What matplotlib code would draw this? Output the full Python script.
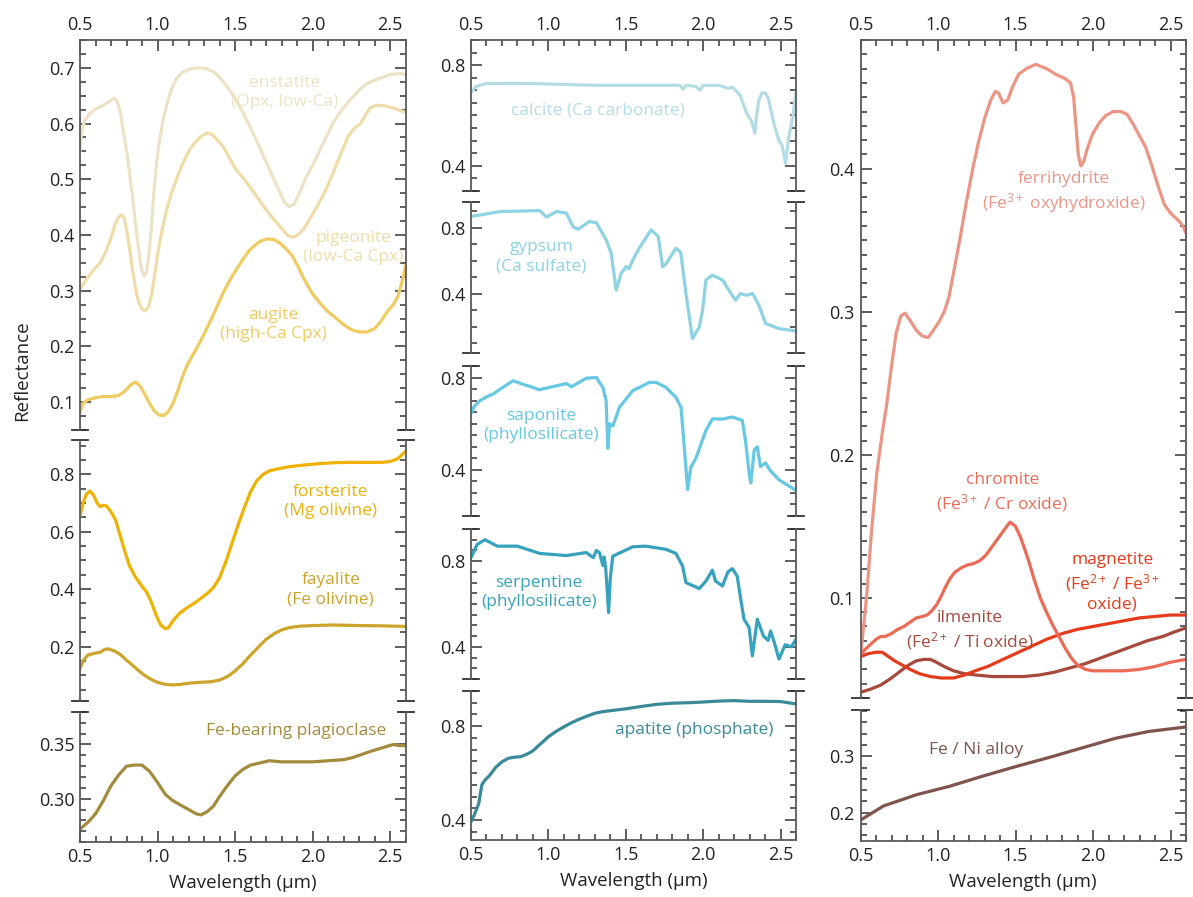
import matplotlib
matplotlib.use("Agg")
import matplotlib.pyplot as plt
from matplotlib.ticker import MultipleLocator, FormatStrFormatter

plt.rcParams['font.family'] = ['Open Sans', 'DejaVu Sans']
plt.rcParams['mathtext.default'] = 'regular'

# ---------------- data (wavelength in µm, reflectance) ----------------
enstatite_wl = [0.50, 0.51, 0.53, 0.56, 0.60, 0.65, 0.69, 0.72, 0.74, 0.76, 0.78, 0.80, 0.82, 0.84, 0.86,
                0.88, 0.895, 0.913, 0.93, 0.945, 0.96, 0.975, 0.99, 1.01, 1.035, 1.06, 1.09, 1.12, 1.16,
                1.21, 1.26, 1.31, 1.36, 1.40, 1.45, 1.50, 1.55, 1.60, 1.65, 1.70, 1.75, 1.79, 1.82, 1.85,
                1.88, 1.92, 1.96, 2.00, 2.04, 2.08, 2.13, 2.18, 2.24, 2.30, 2.35, 2.42, 2.50, 2.56, 2.60]
enstatite_r = [0.55, 0.585, 0.605, 0.617, 0.626, 0.633, 0.640, 0.646, 0.64, 0.62, 0.585, 0.552, 0.51, 0.466,
               0.415, 0.37, 0.34, 0.326, 0.335, 0.365, 0.415, 0.47, 0.52, 0.565, 0.605, 0.635, 0.662, 0.68,
               0.692, 0.698, 0.70, 0.699, 0.693, 0.683, 0.666, 0.645, 0.62, 0.592, 0.562, 0.531, 0.50,
               0.476, 0.458, 0.451, 0.455, 0.478, 0.505, 0.525, 0.548, 0.572, 0.60, 0.622, 0.642, 0.66,
               0.672, 0.68, 0.688, 0.69, 0.688]

pigeonite_wl = [0.50, 0.54, 0.58, 0.63, 0.67, 0.70, 0.725, 0.75, 0.77, 0.785, 0.80, 0.82, 0.84, 0.86, 0.88,
                0.90, 0.92, 0.94, 0.96, 0.98, 1.00, 1.03, 1.06, 1.09, 1.12, 1.16, 1.20, 1.24, 1.28, 1.32,
                1.35, 1.38, 1.42, 1.46, 1.50, 1.55, 1.60, 1.65, 1.70, 1.75, 1.80, 1.84, 1.87, 1.90, 1.94,
                1.98, 2.03, 2.08, 2.13, 2.18, 2.23, 2.27, 2.31, 2.34, 2.37, 2.41, 2.46, 2.52, 2.56, 2.60]
pigeonite_r = [0.302, 0.32, 0.335, 0.35, 0.372, 0.395, 0.418, 0.433, 0.436, 0.43, 0.41, 0.375, 0.335, 0.30,
               0.278, 0.267, 0.264, 0.27, 0.29, 0.325, 0.365, 0.41, 0.447, 0.475, 0.499, 0.527, 0.55, 0.566,
               0.577, 0.583, 0.581, 0.572, 0.56, 0.54, 0.52, 0.503, 0.485, 0.465, 0.445, 0.428, 0.412,
               0.399, 0.396, 0.399, 0.41, 0.428, 0.452, 0.478, 0.51, 0.545, 0.578, 0.592, 0.60, 0.615,
               0.628, 0.633, 0.632, 0.628, 0.624, 0.62]

augite_wl = [0.50, 0.52, 0.55, 0.60, 0.65, 0.70, 0.75, 0.79, 0.83, 0.86, 0.89, 0.92, 0.95, 0.98, 1.01,
             1.04, 1.07, 1.10, 1.13, 1.16, 1.19, 1.23, 1.27, 1.31, 1.35, 1.39, 1.43, 1.47, 1.51, 1.55,
             1.59, 1.63, 1.67, 1.71, 1.75, 1.79, 1.83, 1.87, 1.91, 1.95, 2.00, 2.05, 2.10, 2.15, 2.20,
             2.25, 2.30, 2.35, 2.40, 2.44, 2.48, 2.52, 2.55, 2.58, 2.60]
augite_r = [0.082, 0.098, 0.104, 0.108, 0.11, 0.11, 0.112, 0.12, 0.132, 0.136, 0.128, 0.113, 0.097, 0.084,
            0.077, 0.076, 0.083, 0.098, 0.12, 0.145, 0.166, 0.186, 0.206, 0.228, 0.251, 0.276, 0.30, 0.321,
            0.339, 0.356, 0.372, 0.382, 0.39, 0.393, 0.392, 0.385, 0.375, 0.362, 0.341, 0.318, 0.294,
            0.277, 0.262, 0.251, 0.239, 0.23, 0.226, 0.226, 0.232, 0.245, 0.262, 0.275, 0.29, 0.32, 0.345]

forsterite_wl = [0.50, 0.52, 0.54, 0.565, 0.59, 0.61, 0.63, 0.65, 0.67, 0.70, 0.73, 0.76, 0.79, 0.82, 0.86,
                 0.90, 0.93, 0.96, 0.99, 1.02, 1.05, 1.07, 1.10, 1.14, 1.19, 1.24, 1.28, 1.32, 1.36, 1.40,
                 1.44, 1.48, 1.52, 1.56, 1.60, 1.64, 1.68, 1.72, 1.78, 1.85, 1.95, 2.05, 2.15, 2.25, 2.35,
                 2.45, 2.50, 2.55, 2.60]
forsterite_r = [0.655, 0.70, 0.73, 0.742, 0.725, 0.70, 0.688, 0.692, 0.69, 0.67, 0.64, 0.585, 0.53, 0.48,
                0.44, 0.41, 0.389, 0.355, 0.31, 0.275, 0.262, 0.265, 0.29, 0.315, 0.335, 0.352, 0.368,
                0.385, 0.405, 0.44, 0.495, 0.56, 0.625, 0.685, 0.74, 0.778, 0.80, 0.812, 0.82, 0.827,
                0.833, 0.838, 0.841, 0.842, 0.842, 0.842, 0.845, 0.855, 0.881]

fayalite_wl = [0.50, 0.52, 0.55, 0.59, 0.63, 0.66, 0.68, 0.72, 0.76, 0.80, 0.84, 0.88, 0.92, 0.96, 1.00,
               1.05, 1.10, 1.15, 1.20, 1.27, 1.34, 1.40, 1.45, 1.50, 1.55, 1.60, 1.65, 1.70, 1.75, 1.80,
               1.85, 1.92, 2.00, 2.13, 2.30, 2.45, 2.60]
fayalite_r = [0.122, 0.15, 0.17, 0.176, 0.18, 0.19, 0.192, 0.185, 0.172, 0.152, 0.134, 0.115, 0.098, 0.085,
              0.075, 0.068, 0.066, 0.068, 0.072, 0.075, 0.077, 0.083, 0.095, 0.115, 0.14, 0.17, 0.198,
              0.225, 0.244, 0.258, 0.266, 0.271, 0.273, 0.275, 0.273, 0.272, 0.27]

plagioclase_wl = [0.50, 0.55, 0.60, 0.65, 0.70, 0.75, 0.80, 0.85, 0.90, 0.95, 1.00, 1.05, 1.10, 1.15, 1.20,
                  1.25, 1.28, 1.32, 1.36, 1.40, 1.45, 1.50, 1.55, 1.60, 1.66, 1.72, 1.80, 1.90, 2.00, 2.10,
                  2.20, 2.26, 2.32, 2.38, 2.45, 2.52, 2.56, 2.60]
plagioclase_r = [0.272, 0.278, 0.286, 0.298, 0.312, 0.322, 0.33, 0.331, 0.331, 0.325, 0.315, 0.304, 0.298,
                 0.294, 0.29, 0.286, 0.285, 0.288, 0.293, 0.302, 0.312, 0.321, 0.327, 0.331, 0.333, 0.335,
                 0.334, 0.334, 0.334, 0.335, 0.336, 0.338, 0.341, 0.344, 0.347, 0.35, 0.349, 0.349]

calcite_wl = [0.50, 0.53, 0.60, 0.90, 1.30, 1.70, 1.85, 1.87, 1.89, 1.95, 1.98, 2.00, 2.10, 2.16, 2.19,
              2.24, 2.28, 2.31, 2.335, 2.345, 2.36, 2.38, 2.40, 2.42, 2.46, 2.49, 2.51, 2.533, 2.55, 2.58, 2.60]
calcite_r = [0.69, 0.715, 0.727, 0.727, 0.72, 0.72, 0.72, 0.705, 0.72, 0.716, 0.70, 0.72, 0.72, 0.708, 0.712,
             0.68, 0.61, 0.58, 0.53, 0.60, 0.66, 0.69, 0.69, 0.67, 0.56, 0.50, 0.48, 0.41, 0.50, 0.60, 0.69]

gypsum_wl = [0.50, 0.687, 0.944, 0.987, 1.052, 1.116, 1.159, 1.191, 1.266, 1.31, 1.374, 1.406, 1.438, 1.47,
             1.503, 1.52, 1.545, 1.59, 1.664, 1.71, 1.738, 1.76, 1.824, 1.855, 1.889, 1.931, 1.975, 1.996,
             2.018, 2.06, 2.125, 2.18, 2.21, 2.24, 2.28, 2.32, 2.36, 2.404, 2.49, 2.60]
gypsum_r = [0.867, 0.897, 0.903, 0.863, 0.897, 0.888, 0.806, 0.79, 0.837, 0.83, 0.725, 0.644, 0.421, 0.522,
            0.563, 0.55, 0.603, 0.68, 0.786, 0.745, 0.563, 0.58, 0.675, 0.65, 0.40, 0.127, 0.197, 0.299,
            0.482, 0.512, 0.482, 0.40, 0.36, 0.40, 0.39, 0.40, 0.33, 0.218, 0.188, 0.173]

saponite_wl = [0.50, 0.52, 0.558, 0.60, 0.644, 0.70, 0.772, 0.84, 0.901, 0.94, 1.116, 1.15, 1.245, 1.31,
               1.352, 1.373, 1.384, 1.395, 1.417, 1.459, 1.545, 1.653, 1.696, 1.76, 1.824, 1.857, 1.878,
               1.90, 1.92, 1.953, 2.018, 2.06, 2.125, 2.189, 2.253, 2.275, 2.297, 2.308, 2.33, 2.35, 2.37,
               2.404, 2.43, 2.49, 2.60]
saponite_r = [0.643, 0.675, 0.70, 0.716, 0.729, 0.755, 0.786, 0.77, 0.757, 0.747, 0.774, 0.76, 0.797, 0.80,
              0.757, 0.70, 0.493, 0.60, 0.59, 0.671, 0.743, 0.779, 0.779, 0.757, 0.714, 0.671, 0.50, 0.314,
              0.41, 0.45, 0.571, 0.621, 0.62, 0.629, 0.614, 0.52, 0.386, 0.343, 0.486, 0.50, 0.414, 0.43,
              0.40, 0.357, 0.311]

serpentine_wl = [0.50, 0.54, 0.59, 0.67, 0.80, 0.944, 1.116, 1.245, 1.29, 1.31, 1.33, 1.352, 1.36, 1.37,
                 1.384, 1.389, 1.40, 1.416, 1.545, 1.63, 1.76, 1.824, 1.867, 1.889, 1.975, 2.018, 2.06, 2.08,
                 2.125, 2.16, 2.189, 2.22, 2.243, 2.264, 2.297, 2.318, 2.35, 2.39, 2.42, 2.436, 2.46, 2.49,
                 2.53, 2.57, 2.60]
serpentine_r = [0.816, 0.878, 0.90, 0.87, 0.87, 0.836, 0.826, 0.84, 0.816, 0.85, 0.84, 0.78, 0.82, 0.77,
                0.622, 0.56, 0.72, 0.823, 0.867, 0.87, 0.855, 0.836, 0.777, 0.70, 0.672, 0.707, 0.758, 0.707,
                0.684, 0.75, 0.765, 0.73, 0.622, 0.529, 0.49, 0.358, 0.529, 0.45, 0.43, 0.474, 0.42, 0.343,
                0.41, 0.40, 0.436]

apatite_wl = [0.50, 0.52, 0.55, 0.57, 0.59, 0.62, 0.66, 0.70, 0.74, 0.78, 0.82, 0.86, 0.90, 0.95, 1.00,
              1.05, 1.10, 1.15, 1.20, 1.25, 1.30, 1.35, 1.40, 1.50, 1.60, 1.70, 1.80, 1.90, 2.00, 2.10,
              2.20, 2.30, 2.40, 2.50, 2.60]
apatite_r = [0.393, 0.42, 0.47, 0.55, 0.57, 0.59, 0.625, 0.648, 0.663, 0.668, 0.67, 0.68, 0.695, 0.725,
             0.755, 0.778, 0.797, 0.815, 0.83, 0.843, 0.855, 0.862, 0.866, 0.874, 0.884, 0.893, 0.898, 0.90,
             0.903, 0.907, 0.909, 0.906, 0.906, 0.905, 0.895]

ferrihydrite_wl = [0.50, 0.52, 0.541, 0.57, 0.605, 0.64, 0.67, 0.70, 0.73, 0.76, 0.787, 0.82, 0.86, 0.90,
                   0.936, 0.97, 1.012, 1.04, 1.07, 1.10, 1.14, 1.18, 1.226, 1.26, 1.30, 1.34, 1.37, 1.39,
                   1.42, 1.45, 1.48, 1.52, 1.57, 1.63, 1.70, 1.76, 1.82, 1.855, 1.875, 1.89, 1.905, 1.921,
                   1.94, 1.96, 1.996, 2.04, 2.08, 2.13, 2.18, 2.22, 2.26, 2.30, 2.34, 2.38, 2.42, 2.46,
                   2.50, 2.55, 2.58, 2.60]
ferrihydrite_r = [0.059, 0.08, 0.103, 0.145, 0.187, 0.215, 0.236, 0.262, 0.285, 0.297, 0.299, 0.294, 0.287,
                  0.283, 0.282, 0.287, 0.294, 0.30, 0.31, 0.327, 0.35, 0.375, 0.401, 0.418, 0.435, 0.448,
                  0.454, 0.453, 0.446, 0.448, 0.457, 0.466, 0.47, 0.473, 0.47, 0.466, 0.463, 0.46, 0.45,
                  0.43, 0.41, 0.402, 0.405, 0.413, 0.424, 0.432, 0.437, 0.44, 0.44, 0.438, 0.431, 0.423,
                  0.415, 0.402, 0.388, 0.375, 0.369, 0.364, 0.36, 0.355]

chromite_wl = [0.50, 0.53, 0.56, 0.60, 0.63, 0.66, 0.70, 0.74, 0.78, 0.82, 0.86, 0.90, 0.93, 0.96, 0.99,
               1.02, 1.05, 1.08, 1.11, 1.15, 1.19, 1.23, 1.27, 1.31, 1.35, 1.39, 1.43, 1.465, 1.50, 1.53,
               1.56, 1.59, 1.62, 1.66, 1.70, 1.74, 1.78, 1.82, 1.86, 1.90, 1.95, 2.00, 2.10, 2.20, 2.30,
               2.40, 2.50, 2.60]
chromite_r = [0.06, 0.064, 0.067, 0.071, 0.073, 0.073, 0.075, 0.078, 0.08, 0.083, 0.086, 0.087, 0.088, 0.091,
              0.095, 0.101, 0.108, 0.114, 0.118, 0.121, 0.123, 0.124, 0.126, 0.13, 0.136, 0.142, 0.148,
              0.153, 0.15, 0.143, 0.134, 0.124, 0.113, 0.10, 0.09, 0.081, 0.073, 0.065, 0.058, 0.053,
              0.05, 0.049, 0.049, 0.049, 0.05, 0.052, 0.055, 0.057]

magnetite_wl = [0.50, 0.55, 0.60, 0.64, 0.68, 0.72, 0.77, 0.82, 0.88, 0.95, 1.02, 1.10, 1.17, 1.24, 1.32,
                1.40, 1.50, 1.60, 1.70, 1.80, 1.90, 2.00, 2.10, 2.20, 2.30, 2.40, 2.50, 2.60]
magnetite_r = [0.059, 0.061, 0.062, 0.062, 0.059, 0.056, 0.053, 0.05, 0.047, 0.045, 0.044, 0.044, 0.046,
               0.049, 0.052, 0.056, 0.061, 0.066, 0.071, 0.075, 0.078, 0.08, 0.082, 0.084, 0.086, 0.087,
               0.088, 0.088]

ilmenite_wl = [0.50, 0.56, 0.63, 0.70, 0.76, 0.81, 0.86, 0.91, 0.95, 0.99, 1.04, 1.10, 1.17, 1.25, 1.35,
               1.45, 1.55, 1.65, 1.75, 1.85, 1.95, 2.05, 2.15, 2.25, 2.35, 2.45, 2.52, 2.60]
ilmenite_r = [0.034, 0.036, 0.039, 0.044, 0.049, 0.053, 0.056, 0.057, 0.057, 0.055, 0.052, 0.049, 0.047,
              0.046, 0.045, 0.045, 0.045, 0.046, 0.048, 0.051, 0.054, 0.058, 0.062, 0.066, 0.07, 0.073,
              0.076, 0.079]

feni_wl = [0.50, 0.648, 0.862, 1.076, 1.29, 1.504, 1.718, 1.931, 2.146, 2.359, 2.60]
feni_r = [0.187, 0.212, 0.232, 0.247, 0.265, 0.282, 0.298, 0.315, 0.332, 0.344, 0.352]

# ---------------- styling ----------------
C = {
    'enstatite': '#EDE2C6', 'pigeonite': '#EFDCA8', 'augite': '#F0CB62', 'forsterite': '#EFB203',
    'fayalite': '#CDA42C', 'plagioclase': '#A38B3E', 'calcite': '#B4DCE5', 'gypsum': '#8ED3E3',
    'saponite': '#66C8E2', 'serpentine': '#36A2BD', 'apatite': '#3A8A9A', 'ferrihydrite': '#EC9585',
    'chromite': '#EC6B56', 'magnetite': '#E53B1B', 'ilmenite': '#A6493C', 'feni': '#7E544D',
}
SPINE = '#5a5a5a'
LW = 2.3
W, H = 1193, 897

fig = plt.figure(figsize=(W / 100, H / 100), dpi=100)


def make_ax(x0, x1, y0, y1):
    return fig.add_axes([x0 / W, 1 - y1 / H, (x1 - x0) / W, (y1 - y0) / H])


def style(ax, ylim, major, minor, fmt, top=False, bottom=False, brk_top=False, brk_bot=False):
    ax.set_xlim(0.5, 2.6)
    ax.set_ylim(*ylim)
    ax.yaxis.set_major_locator(MultipleLocator(major))
    ax.yaxis.set_minor_locator(MultipleLocator(minor))
    ax.yaxis.set_major_formatter(FormatStrFormatter(fmt))
    ax.xaxis.set_major_locator(MultipleLocator(0.5))
    ax.xaxis.set_minor_locator(MultipleLocator(0.1))
    ax.xaxis.set_major_formatter(FormatStrFormatter('%.1f'))
    for s in ax.spines.values():
        s.set_color(SPINE)
        s.set_linewidth(1.3)
    ax.tick_params(axis='y', which='both', direction='in', left=True, right=True,
                   color='#333333', width=1.1, labelsize=13, labelcolor='#222222', pad=4)
    ax.tick_params(axis='y', which='major', length=8)
    ax.tick_params(axis='y', which='minor', length=4.5)
    ax.tick_params(axis='x', which='both', direction='in', top=top, bottom=bottom,
                   labeltop=top, labelbottom=bottom, color='#333333', width=1.1,
                   labelsize=13, labelcolor='#222222', pad=4)
    ax.tick_params(axis='x', which='major', length=8)
    ax.tick_params(axis='x', which='minor', length=4.5)
    d = 0.025
    if brk_top:
        ax.spines['top'].set_visible(False)
        for xx in (0, 1):
            ax.plot([xx - d, xx + d], [1, 1], transform=ax.transAxes, clip_on=False,
                    color='#333333', lw=1.3)
    if brk_bot:
        ax.spines['bottom'].set_visible(False)
        for xx in (0, 1):
            ax.plot([xx - d, xx + d], [0, 0], transform=ax.transAxes, clip_on=False,
                    color='#333333', lw=1.3)


def curve(ax, wl, r, key):
    ax.plot(wl, r, color=C[key], lw=LW, solid_capstyle='round', solid_joinstyle='round')


def label(ax, x, y, s, key, **kw):
    ax.text(x, y, s, color=C[key], fontsize=12.5, ha='center', va='center',
            linespacing=1.25, **kw)


# ---------------- column 1 ----------------
X0, X1 = 80, 405.7
a1 = make_ax(X0, X1, 40, 430)
style(a1, (0.05, 0.75), 0.1, 0.025, '%.1f', top=True, brk_bot=True)
curve(a1, enstatite_wl, enstatite_r, 'enstatite')
curve(a1, pigeonite_wl, pigeonite_r, 'pigeonite')
curve(a1, augite_wl, augite_r, 'augite')
label(a1, 1.82, 0.656, 'enstatite\n(Opx, low-Ca)', 'enstatite')
label(a1, 2.26, 0.377, 'pigeonite\n(low-Ca Cpx)', 'pigeonite', clip_on=True)
label(a1, 1.75, 0.239, 'augite\n(high-Ca Cpx)', 'augite')

a2 = make_ax(X0, X1, 440, 701)
style(a2, (0.01, 0.92), 0.2, 0.05, '%.1f', brk_top=True, brk_bot=True)
curve(a2, forsterite_wl, forsterite_r, 'forsterite')
curve(a2, fayalite_wl, fayalite_r, 'fayalite')
label(a2, 2.117, 0.704, 'forsterite\n(Mg olivine)', 'forsterite')
label(a2, 2.117, 0.398, 'fayalite\n(Fe olivine)', 'fayalite')

a3 = make_ax(X0, X1, 712, 842)
style(a3, (0.26, 0.38), 0.05, 0.01, '%.2f', bottom=True, brk_top=True)
curve(a3, plagioclase_wl, plagioclase_r, 'plagioclase')
label(a3, 1.895, 0.3624, 'Fe-bearing plagioclase', 'plagioclase')
a3.set_xlabel('Wavelength (µm)', fontsize=13.5, color='#222222', labelpad=6)

# ---------------- column 2 ----------------
X0, X1 = 471, 796
b1 = make_ax(X0, X1, 40, 191)
style(b1, (0.3, 0.9), 0.4, 0.05, '%.1f', top=True, brk_bot=True)
curve(b1, calcite_wl, calcite_r, 'calcite')
label(b1, 1.318, 0.621, 'calcite (Ca carbonate)', 'calcite')

b2 = make_ax(X0, X1, 202, 353)
style(b2, (0.04, 0.955), 0.4, 0.1, '%.1f', brk_top=True, brk_bot=True)
curve(b2, gypsum_wl, gypsum_r, 'gypsum')
label(b2, 0.955, 0.623, 'gypsum\n(Ca sulfate)', 'gypsum')

b3 = make_ax(X0, X1, 366, 516)
style(b3, (0.2, 0.85), 0.4, 0.05, '%.1f', brk_top=True, brk_bot=True)
curve(b3, saponite_wl, saponite_r, 'saponite')
label(b3, 0.955, 0.594, 'saponite\n(phyllosilicate)', 'saponite')

b4 = make_ax(X0, X1, 529, 679)
style(b4, (0.25, 0.95), 0.4, 0.05, '%.1f', brk_top=True, brk_bot=True)
curve(b4, serpentine_wl, serpentine_r, 'serpentine')
label(b4, 0.94, 0.654, 'serpentine\n(phyllosilicate)', 'serpentine')

b5 = make_ax(X0, X1, 691, 840)
style(b5, (0.315, 0.95), 0.4, 0.05, '%.1f', bottom=True, brk_top=True)
curve(b5, apatite_wl, apatite_r, 'apatite')
label(b5, 1.942, 0.782, 'apatite (phosphate)', 'apatite')
b5.set_xlabel('Wavelength (µm)', fontsize=13.5, color='#222222', labelpad=6)

# ---------------- column 3 ----------------
X0, X1 = 860.5, 1186
c1 = make_ax(X0, X1, 40, 698)
style(c1, (0.03, 0.49), 0.1, 0.01, '%.1f', top=True, brk_bot=True)
curve(c1, ferrihydrite_wl, ferrihydrite_r, 'ferrihydrite')
curve(c1, ilmenite_wl, ilmenite_r, 'ilmenite')
curve(c1, magnetite_wl, magnetite_r, 'magnetite')
curve(c1, chromite_wl, chromite_r, 'chromite')
label(c1, 1.812, 0.383, 'ferrihydrite\n(Fe$^{3+}$ oxyhydroxide)', 'ferrihydrite')
label(c1, 1.414, 0.173, 'chromite\n(Fe$^{3+}$ / Cr oxide)', 'chromite')
label(c1, 2.124, 0.111, 'magnetite\n(Fe$^{2+}$ / Fe$^{3+}$\noxide)', 'magnetite')
label(c1, 1.204, 0.0767, 'ilmenite\n(Fe$^{2+}$ / Ti oxide)', 'ilmenite')

c2 = make_ax(X0, X1, 710, 841)
style(c2, (0.15, 0.382), 0.1, 0.02, '%.1f', bottom=True, brk_top=True)
curve(c2, feni_wl, feni_r, 'feni')
label(c2, 1.247, 0.312, 'Fe / Ni alloy', 'feni')
c2.set_xlabel('Wavelength (µm)', fontsize=13.5, color='#222222', labelpad=6)

fig.text(22 / W, 1 - 371 / H, 'Reflectance', rotation=90, ha='center', va='center',
         fontsize=13.5, color='#222222')

fig.savefig('out.png', dpi=100)
